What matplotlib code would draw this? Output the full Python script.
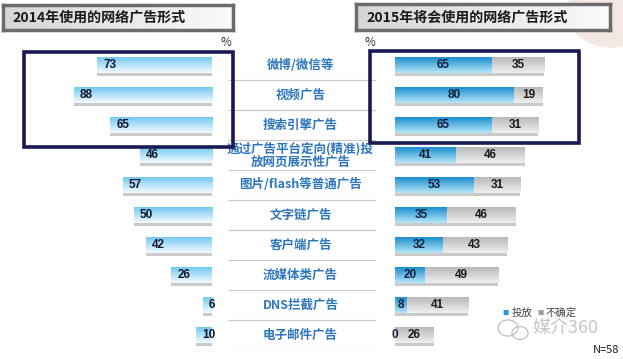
import numpy as np
import matplotlib
matplotlib.use('Agg')
from matplotlib import pyplot as plt
from matplotlib.patches import Rectangle, Ellipse
from matplotlib.colors import to_rgb

plt.rcParams['font.family'] = ['Noto Sans CJK SC', 'DejaVu Sans']

categories = ['微博/微信等', '视频广告', '搜索引擎广告',
              '通过广告平台定向(精准)投\n放网页展示性广告', '图片/flash等普通广告',
              '文字链广告', '客户端广告', '流媒体类广告', 'DNS拦截广告', '电子邮件广告']
used_2014 = [73, 88, 65, 46, 57, 50, 42, 26, 6, 10]
place_2015 = [65, 80, 65, 41, 53, 35, 32, 20, 8, 0]
unsure_2015 = [35, 19, 31, 46, 31, 46, 43, 49, 41, 26]
title_left = '2014年使用的网络广告形式'
title_right = '2015年将会使用的网络广告形式'
legend_labels = ['投放', '不确定']
sample_note = 'N=58'

W, H = 623, 359
fig = plt.figure(figsize=(W / 100, H / 100), dpi=100)
fig.patch.set_facecolor('white')


def px_axes(x0, y0, x1, y1):
    # pixel box (top-left origin) -> figure axes
    return fig.add_axes([x0 / W, 1 - y1 / H, (x1 - x0) / W, (y1 - y0) / H])


def gradient(c_top, c_bot, n=32):
    a, b = np.array(to_rgb(c_top)), np.array(to_rgb(c_bot))
    t = np.linspace(0, 1, n)[:, None]
    return (a * (1 - t) + b * t)[:, None, :]


def grad_bars(ax, y, widths, lefts, h, c_top, c_bot):
    # shadow
    ax.barh(np.array(y) + 0.1, widths, left=lefts, height=h, color='#8a8a8a',
            alpha=0.45, linewidth=0, zorder=1)
    bars = ax.barh(y, widths, left=lefts, height=h, color='none', linewidth=0, zorder=2)
    img = gradient(c_top, c_bot)
    for p in bars.patches:
        x0, yb = p.get_x(), p.get_y()
        w, hh = p.get_width(), p.get_height()
        if w == 0:
            continue
        im = ax.imshow(img, extent=(x0, x0 + w, yb + hh, yb), origin='upper',
                       aspect='auto', zorder=2, interpolation='bilinear')
        im.set_clip_path(p)
    return bars


n = len(categories)
ypos = np.arange(n)
bar_h = 0.52

# decorative corner blob
fig.add_artist(Ellipse((612 / W, 1 - 12 / H), 90 / W, 70 / H, color='#f4e9e2', zorder=0))

# left panel
axl = px_axes(0, 50, 212, 350)
grad_bars(axl, ypos, used_2014, 0, bar_h, '#74c9f1', '#f4fbff')
for i, v in enumerate(used_2014):
    axl.annotate(str(v), xy=(v, i), xytext=(4.5, 0), textcoords='offset points',
                 ha='left', va='center', fontsize=8.5, fontweight='bold',
                 color='#15172a', family=['Liberation Sans', 'DejaVu Sans'])
axl.set_xlim(212 / 1.57, 0)
axl.set_ylim(n - 0.5, -0.5)
axl.axis('off')

# right panel
axr = px_axes(395, 50, 623, 350)
grad_bars(axr, ypos, place_2015, 0, bar_h, '#1d8fd0', '#b5e6f8')
grad_bars(axr, ypos, unsure_2015, place_2015, bar_h, '#b9b9b9', '#efefef')
for i, (a, b) in enumerate(zip(place_2015, unsure_2015)):
    axr.text(a / 2, i, str(a), ha='center', va='center', fontsize=8.5,
             fontweight='bold', color='#14203a', family=['Liberation Sans', 'DejaVu Sans'], zorder=3)
    axr.text(a + b / 2, i, str(b), ha='center', va='center', fontsize=8.5,
             fontweight='bold', color='#1a1a1a', family=['Liberation Sans', 'DejaVu Sans'], zorder=3)
axr.set_xlim(0, 228 / 1.49)
axr.set_ylim(n - 0.5, -0.5)
axr.axis('off')

# category column
axc = px_axes(228, 50, 376, 350)
axc.hlines(ypos[:] + 0.5, 0, 1, color='#c8c8c8', linewidth=0.8)
for i, c in enumerate(categories):
    axc.text(0.49, i, c, ha='center', va='center', fontsize=9, fontweight='bold',
             color='#2e76bd', linespacing=1.0)
axc.set_xlim(0, 1)
axc.set_ylim(n - 0.5, -0.5)
axc.axis('off')

# title boxes
for (x0, y0, x1, y1), t in [((3, 5, 233, 30), title_left), ((356, 4, 610, 30), title_right)]:
    axt = px_axes(x0, y0, x1, y1)
    g = np.linspace(0, 1, 64)
    row = np.array(to_rgb('#d6d6d6'))[None, :] * (1 - g[:, None]) + np.array(to_rgb('#fafafa'))[None, :] * g[:, None]
    axt.imshow(row[None, :, :], extent=(0, 1, 0, 1), aspect='auto')
    axt.set_xlim(0, 1)
    axt.set_ylim(0, 1)
    axt.set_xticks([])
    axt.set_yticks([])
    for s in axt.spines.values():
        s.set_color('#6c6c6c')
        s.set_linewidth(2.5)
    axt.text(0.04, 0.48, t, ha='left', va='center', fontsize=10.1, fontweight='bold',
             color='#1a1a1a', transform=axt.transAxes)

fig.text(226 / W, 1 - 42 / H, '%', fontsize=8.5, ha='center', va='center', color='#333333')
fig.text(370 / W, 1 - 42 / H, '%', fontsize=8.5, ha='center', va='center', color='#333333')

# highlight frames
for x0, y0, x1, y1 in [(24, 52, 233, 147), (370, 51, 579, 143)]:
    fig.add_artist(Rectangle((x0 / W, 1 - y1 / H), (x1 - x0) / W, (y1 - y0) / H,
                             transform=fig.transFigure, fill=False,
                             edgecolor='#191a55', linewidth=2.6, zorder=5))

# legend
fig.text(506 / W, 1 - 313 / H, '■', fontsize=4.5, color='#2a9ad6', ha='center', va='center')
fig.text(512 / W, 1 - 313 / H, legend_labels[0], fontsize=7.5, color='#444444', ha='left', va='center')
fig.text(540 / W, 1 - 313 / H, '■', fontsize=4.5, color='#9a9a9a', ha='center', va='center')
fig.text(546 / W, 1 - 313 / H, legend_labels[1], fontsize=7.5, color='#444444', ha='left', va='center')

# watermark
fig.add_artist(Ellipse((508 / W, 1 - 328 / H), 20 / W, 16 / H, fill=False,
                       edgecolor='#c4c4c4', linewidth=1.0))
fig.add_artist(Ellipse((520 / W, 1 - 333 / H), 16 / W, 13 / H, fill=False,
                       edgecolor='#c4c4c4', linewidth=1.0))
fig.text(532 / W, 1 - 328 / H, '媒介360', fontsize=13, color='#c6c6c6', ha='left', va='center')

fig.text(619 / W, 1 - 350 / H, sample_note, fontsize=8, color='#222222', ha='right', va='center')

fig.savefig('out.png', dpi=100)
